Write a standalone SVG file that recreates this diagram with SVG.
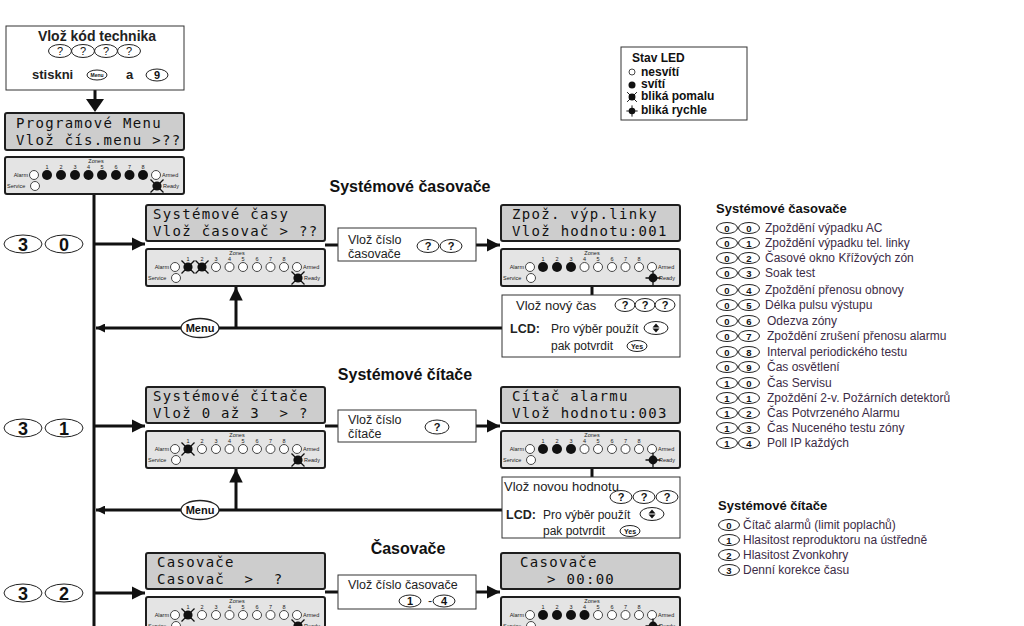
<svg xmlns="http://www.w3.org/2000/svg" width="1024" height="626" viewBox="0 0 1024 626">
<style>
.lcd{fill:#cdcdcd;stroke:#1e1e1e;stroke-width:2}
.pnl{fill:#e4e4e4;stroke:#1e1e1e;stroke-width:2}
.lt{font-family:"DejaVu Sans Mono",monospace;font-size:14px;letter-spacing:1.3px;fill:#111;white-space:pre}
.box{fill:#fff;stroke:#333;stroke-width:1}
.bt{font-family:"Liberation Sans",Arial,sans-serif;font-size:12.5px;fill:#222}
.bt13{font-family:"Liberation Sans",Arial,sans-serif;font-size:12px;fill:#222}
.b{font-weight:bold}
.key{fill:#fff;stroke:#222;stroke-width:1}
.kt{font-family:"Liberation Sans",Arial,sans-serif;font-weight:bold;text-anchor:middle;fill:#111}
.ln{stroke:#111;stroke-width:3;fill:none}
.ah{fill:#111}
.tiny{font-family:"Liberation Sans",Arial,sans-serif;font-size:5.5px;fill:#222}
.ttl{font-family:"Liberation Sans",Arial,sans-serif;font-size:16px;font-weight:bold;fill:#111;text-anchor:middle}
.lst{font-family:"Liberation Sans",Arial,sans-serif;font-size:12px;fill:#3c2b46}
.lh{font-family:"Liberation Sans",Arial,sans-serif;font-size:13px;font-weight:bold;fill:#111}
.leg{font-family:"Liberation Sans",Arial,sans-serif;font-size:12px;font-weight:bold;fill:#111}
</style>
<defs>
<g id="lOff"><circle r="4.5" fill="#fff" stroke="#333" stroke-width="0.9"/></g>
<g id="lOn"><circle r="5" fill="#111"/></g>
<g id="lSlow"><circle r="4.6" fill="#111"/><path d="M-6.5,-6.5L6.5,6.5M-6.5,6.5L6.5,-6.5" stroke="#111" stroke-width="1.3"/></g>
<g id="lFast"><circle r="4.4" fill="#111"/><path d="M-7.5,0H7.5M0,-7.5V7.5" stroke="#111" stroke-width="1.3"/></g>
<g id="panel">
<rect class="pnl" x="0" y="0" width="179" height="37" rx="2"/>
<text class="tiny" x="91" y="6" text-anchor="middle">Zones</text>
<g class="tiny" text-anchor="middle">
<text x="42" y="11.5">1</text><text x="56" y="11.5">2</text><text x="70" y="11.5">3</text><text x="83.5" y="11.5">4</text><text x="97" y="11.5">5</text><text x="111" y="11.5">6</text><text x="124.5" y="11.5">7</text><text x="138" y="11.5">8</text>
</g>
<text class="tiny" x="23" y="20" text-anchor="end">Alarm</text>
<use href="#lOff" x="29" y="18"/>
<use href="#lOff" x="151" y="18"/>
<text class="tiny" x="157" y="20">Armed</text>
<text class="tiny" x="2" y="31">Service</text>
<use href="#lOff" x="30" y="29"/>
<text class="tiny" x="158" y="31">Ready</text>
</g>
<marker id="arr" viewBox="0 0 10 10" refX="10" refY="5" markerWidth="4.5" markerHeight="4.5" markerUnits="strokeWidth" orient="auto"><path d="M0,0L10,5L0,10z" fill="#111"/></marker>
<marker id="arrs" viewBox="0 0 10 10" refX="10" refY="5" markerWidth="3" markerHeight="3" markerUnits="strokeWidth" orient="auto"><path d="M0,0L10,5L0,10z" fill="#111"/></marker>
</defs>

<g id="connectors">
<path class="ln" d="M95,90V100"/>
<path class="ah" d="M86,99H104L95,112z"/>
<path class="ln" d="M94,194V626"/>
<path class="ln" d="M95,244H145" marker-end="url(#arr)"/>
<path class="ln" d="M95,426H145" marker-end="url(#arr)"/>
<path class="ln" d="M95,593H145" marker-end="url(#arr)"/>
<path class="ln" d="M325,245H338"/>
<path class="ln" d="M476,245H500" marker-end="url(#arr)"/>
<path class="ln" d="M325,426H338"/>
<path class="ln" d="M476,426H500" marker-end="url(#arr)"/>
<path class="ln" d="M325,592H338"/>
<path class="ln" d="M476,592H500" marker-end="url(#arr)"/>
<path class="ln" d="M592,286V295"/>
<path class="ln" d="M592,468V477"/>
<path class="ln" d="M502,328H219M181,328H96" marker-end="url(#arrs)"/>
<path class="ln" d="M236,328V287" marker-end="url(#arr)"/>
<path class="ln" d="M502,510H219M181,510H96" marker-end="url(#arrs)"/>
<path class="ln" d="M236,510V469" marker-end="url(#arr)"/>
</g>

<g id="n-start">
<rect class="box" x="6" y="26" width="178" height="64"/>
<text class="bt b" x="97" y="41" text-anchor="middle" style="font-size:14px">Vlož kód technika</text>
<g class="key"><ellipse cx="60" cy="51" rx="11.5" ry="6.5"/><ellipse cx="83" cy="51" rx="11.5" ry="6.5"/><ellipse cx="106" cy="51" rx="11.5" ry="6.5"/><ellipse cx="129" cy="51" rx="11.5" ry="6.5"/></g>
<g class="kt" style="font-size:11px;font-weight:normal"><text x="60" y="55">?</text><text x="83" y="55">?</text><text x="106" y="55">?</text><text x="129" y="55">?</text></g>
<text class="bt b" x="32" y="79" style="font-size:13px">stiskni</text>
<ellipse class="key" cx="97" cy="75" rx="10" ry="5"/>
<text class="kt" x="97" y="77" style="font-size:5px">Menu</text>
<text class="bt b" x="126" y="79" style="font-size:13px">a</text>
<ellipse class="key" cx="157" cy="75" rx="11" ry="6"/>
<text class="kt" x="157" y="79" style="font-size:11px">9</text>
</g>

<g id="n-lcd-main">
<rect class="lcd" x="5" y="113" width="179" height="37" rx="2"/>
<text class="lt" x="16" y="128">Programové Menu</text>
<text class="lt" x="16" y="145">Vlož čís.menu &gt;??</text>
</g>
<g id="n-panel-main" transform="translate(5,157)">
<use href="#panel"/>
<use href="#lOn" x="42" y="18"/><use href="#lOn" x="56" y="18"/><use href="#lOn" x="70" y="18"/><use href="#lOn" x="83.5" y="18"/><use href="#lOn" x="97" y="18"/><use href="#lOn" x="111" y="18"/><use href="#lOn" x="124.5" y="18"/><use href="#lOn" x="138" y="18"/>
<use href="#lSlow" x="152" y="29"/>
</g>

<g id="n-keys30">
<ellipse class="key" cx="23" cy="244" rx="19" ry="9"/><ellipse class="key" cx="64" cy="244" rx="19" ry="9"/>
<text class="kt" x="23" y="250.5" style="font-size:18px">3</text><text class="kt" x="64" y="250.5" style="font-size:18px">0</text>
</g>
<g id="n-keys31">
<ellipse class="key" cx="23" cy="428" rx="19" ry="9"/><ellipse class="key" cx="64" cy="428" rx="19" ry="9"/>
<text class="kt" x="23" y="434.5" style="font-size:18px">3</text><text class="kt" x="64" y="434.5" style="font-size:18px">1</text>
</g>
<g id="n-keys32">
<ellipse class="key" cx="23" cy="593" rx="19" ry="9"/><ellipse class="key" cx="64" cy="593" rx="19" ry="9"/>
<text class="kt" x="23" y="599.5" style="font-size:18px">3</text><text class="kt" x="64" y="599.5" style="font-size:18px">2</text>
</g>

<g id="n-legend">
<rect x="621" y="47" width="126" height="73" fill="#fff" stroke="#333" stroke-width="1"/>
<text class="leg" x="632" y="62">Stav LED</text>
<circle cx="632" cy="72" r="3" fill="#fff" stroke="#333" stroke-width="0.9"/>
<text class="leg" x="641" y="76">nesvítí</text>
<circle cx="632" cy="85" r="3.5" fill="#111"/>
<text class="leg" x="641" y="88">svítí</text>
<g transform="translate(632,97) scale(0.75)"><use href="#lSlow"/></g>
<text class="leg" x="641" y="100">bliká pomalu</text>
<g transform="translate(632,111) scale(0.75)"><use href="#lFast"/></g>
<text class="leg" x="641" y="114">bliká rychle</text>
</g>

<text class="ttl" x="410" y="192">Systémové časovače</text>
<text class="ttl" x="405" y="380">Systémové čítače</text>
<text class="ttl" x="408" y="554">Časovače</text>

<g id="n-lcd-30">
<rect class="lcd" x="146" y="205" width="179" height="36" rx="2"/>
<text class="lt" x="153" y="219">Systémové časy</text>
<text class="lt" x="153" y="236">Vlož časovač &gt; ??</text>
</g>
<g id="n-panel-30" transform="translate(146,249)">
<use href="#panel"/>
<use href="#lSlow" x="42" y="18"/><use href="#lSlow" x="56" y="18"/><use href="#lOff" x="70" y="18"/><use href="#lOff" x="83.5" y="18"/><use href="#lOff" x="97" y="18"/><use href="#lOff" x="111" y="18"/><use href="#lOff" x="124.5" y="18"/><use href="#lOff" x="138" y="18"/>
<use href="#lSlow" x="152" y="29"/>
</g>
<g id="n-box-30">
<rect class="box" x="338" y="228" width="138" height="33"/>
<text class="bt" x="348" y="244">Vlož číslo</text>
<text class="bt" x="348" y="258">časovače</text>
<ellipse class="key" cx="428" cy="246" rx="11" ry="6.5"/><ellipse class="key" cx="451" cy="246" rx="11" ry="6.5"/>
<text class="kt" x="428" y="250" style="font-size:11px">?</text><text class="kt" x="451" y="250" style="font-size:11px">?</text>
</g>
<g id="n-lcd-30v">
<rect class="lcd" x="501" y="205" width="179" height="36" rx="2"/>
<text class="lt" x="512" y="219">Zpož. výp.linky</text>
<text class="lt" x="512" y="236">Vlož hodnotu:001</text>
</g>
<g id="n-panel-30v" transform="translate(501,249)">
<use href="#panel"/>
<use href="#lOn" x="42" y="18"/><use href="#lOn" x="56" y="18"/><use href="#lOn" x="70" y="18"/><use href="#lOff" x="83.5" y="18"/><use href="#lOff" x="97" y="18"/><use href="#lOff" x="111" y="18"/><use href="#lOff" x="124.5" y="18"/><use href="#lOff" x="138" y="18"/>
<use href="#lFast" x="152" y="29"/>
</g>
<g id="n-box-30v">
<rect class="box" x="502" y="295" width="178" height="62"/>
<text class="bt13" x="516" y="310" style="font-size:13px">Vlož nový čas</text>
<ellipse class="key" cx="625" cy="305" rx="10" ry="6.5"/><ellipse class="key" cx="645" cy="305" rx="10" ry="6.5"/><ellipse class="key" cx="665" cy="305" rx="10" ry="6.5"/>
<text class="kt" x="625" y="309" style="font-size:11px">?</text><text class="kt" x="645" y="309" style="font-size:11px">?</text><text class="kt" x="665" y="309" style="font-size:11px">?</text>
<text class="bt13 b" x="510" y="333" style="font-size:12.5px">LCD:</text>
<text class="bt13" x="551" y="333">Pro výběr použít</text>
<ellipse class="key" cx="656" cy="328" rx="12" ry="6.5"/>
<path d="M656,323.5L659.5,327.5H652.5zM656,332.5L659.5,328.5H652.5z" fill="#111"/>
<text class="bt13" x="551" y="350">pak potvrdit</text>
<ellipse class="key" cx="637" cy="346" rx="10" ry="5.5"/>
<text class="kt" x="637" y="348.5" style="font-size:7px">Yes</text>
</g>
<g id="n-menu-30">
<ellipse class="key" cx="200" cy="328" rx="19" ry="9.5" style="stroke-width:1.3"/>
<text class="kt" x="200" y="332" style="font-size:11px">Menu</text>
</g>

<g id="n-lcd-31">
<rect class="lcd" x="146" y="387" width="179" height="36" rx="2"/>
<text class="lt" x="153" y="401">Systémové čítače</text>
<text class="lt" x="153" y="418">Vlož 0 až 3  &gt; ?</text>
</g>
<g id="n-panel-31" transform="translate(146,431)">
<use href="#panel"/>
<use href="#lSlow" x="42" y="18"/><use href="#lOff" x="56" y="18"/><use href="#lOff" x="70" y="18"/><use href="#lOff" x="83.5" y="18"/><use href="#lOff" x="97" y="18"/><use href="#lOff" x="111" y="18"/><use href="#lOff" x="124.5" y="18"/><use href="#lOff" x="138" y="18"/>
<use href="#lSlow" x="152" y="29"/>
</g>
<g id="n-box-31">
<rect class="box" x="338" y="410" width="138" height="32"/>
<text class="bt" x="348" y="424">Vlož číslo</text>
<text class="bt" x="348" y="438">čítače</text>
<ellipse class="key" cx="437" cy="427" rx="12" ry="7"/>
<text class="kt" x="437" y="431" style="font-size:11px">?</text>
</g>
<g id="n-lcd-31v">
<rect class="lcd" x="501" y="387" width="179" height="36" rx="2"/>
<text class="lt" x="512" y="401">Cítač alarmu</text>
<text class="lt" x="512" y="418">Vlož hodnotu:003</text>
</g>
<g id="n-panel-31v" transform="translate(501,431)">
<use href="#panel"/>
<use href="#lOn" x="42" y="18"/><use href="#lOn" x="56" y="18"/><use href="#lOn" x="70" y="18"/><use href="#lOff" x="83.5" y="18"/><use href="#lOff" x="97" y="18"/><use href="#lOff" x="111" y="18"/><use href="#lOff" x="124.5" y="18"/><use href="#lOff" x="138" y="18"/>
<use href="#lFast" x="152" y="29"/>
</g>
<g id="n-box-31v">
<rect class="box" x="502" y="477" width="178" height="61"/>
<text class="bt13" x="504" y="491" style="font-size:13px">Vlož novou hodnotu</text>
<ellipse class="key" cx="621" cy="497" rx="11" ry="6.5"/><ellipse class="key" cx="644" cy="497" rx="11" ry="6.5"/><ellipse class="key" cx="667" cy="497" rx="11" ry="6.5"/>
<text class="kt" x="621" y="501" style="font-size:11px">?</text><text class="kt" x="644" y="501" style="font-size:11px">?</text><text class="kt" x="667" y="501" style="font-size:11px">?</text>
<text class="bt13 b" x="506" y="519" style="font-size:12.5px">LCD:</text>
<text class="bt13" x="543" y="519">Pro výběr použít</text>
<ellipse class="key" cx="652" cy="514" rx="12" ry="6.5"/>
<path d="M652,509.5L655.5,513.5H648.5zM652,518.5L655.5,514.5H648.5z" fill="#111"/>
<text class="bt13" x="543" y="535">pak potvrdit</text>
<ellipse class="key" cx="630" cy="531" rx="10" ry="5.5"/>
<text class="kt" x="630" y="533.5" style="font-size:7px">Yes</text>
</g>
<g id="n-menu-31">
<ellipse class="key" cx="200" cy="510" rx="19" ry="9.5" style="stroke-width:1.3"/>
<text class="kt" x="200" y="514" style="font-size:11px">Menu</text>
</g>

<g id="n-lcd-32">
<rect class="lcd" x="146" y="553" width="179" height="36" rx="2"/>
<text class="lt" x="157" y="567">Casovače</text>
<text class="lt" x="157" y="584">Casovač  &gt;  ?</text>
</g>
<g id="n-panel-32" transform="translate(146,597)">
<use href="#panel"/>
<use href="#lSlow" x="42" y="18"/><use href="#lOff" x="56" y="18"/><use href="#lOff" x="70" y="18"/><use href="#lOff" x="83.5" y="18"/><use href="#lOff" x="97" y="18"/><use href="#lOff" x="111" y="18"/><use href="#lOff" x="124.5" y="18"/><use href="#lOff" x="138" y="18"/>
<use href="#lSlow" x="152" y="29"/>
</g>
<g id="n-box-32">
<rect class="box" x="338" y="575" width="138" height="34"/>
<text class="bt" x="348" y="589">Vlož číslo časovače</text>
<ellipse class="key" cx="410" cy="601" rx="11" ry="6"/>
<text class="kt" x="410" y="605" style="font-size:11px">1</text>
<text class="bt" x="428" y="605">-</text>
<ellipse class="key" cx="444" cy="601" rx="11" ry="6"/>
<text class="kt" x="444" y="605" style="font-size:11px">4</text>
</g>
<g id="n-lcd-32v">
<rect class="lcd" x="501" y="553" width="179" height="36" rx="2"/>
<text class="lt" x="520" y="567">Casovače</text>
<text class="lt" x="547" y="584">&gt; 00:00</text>
</g>
<g id="n-panel-32v" transform="translate(501,597)">
<use href="#panel"/>
<use href="#lOn" x="42" y="18"/><use href="#lOn" x="56" y="18"/><use href="#lOn" x="70" y="18"/><use href="#lOn" x="83.5" y="18"/><use href="#lOff" x="97" y="18"/><use href="#lOff" x="111" y="18"/><use href="#lOff" x="124.5" y="18"/><use href="#lOff" x="138" y="18"/>
<use href="#lFast" x="152" y="29"/>
</g>

<g id="n-list-casovace">
<text class="lh" x="716" y="213">Systémové časovače</text>
<g class="key">
<ellipse cx="727" cy="228" rx="10.5" ry="5.5"/><ellipse cx="749" cy="228" rx="10.5" ry="5.5"/>
<ellipse cx="727" cy="243" rx="10.5" ry="5.5"/><ellipse cx="749" cy="243" rx="10.5" ry="5.5"/>
<ellipse cx="727" cy="258" rx="10.5" ry="5.5"/><ellipse cx="749" cy="258" rx="10.5" ry="5.5"/>
<ellipse cx="727" cy="273" rx="10.5" ry="5.5"/><ellipse cx="749" cy="273" rx="10.5" ry="5.5"/>
<ellipse cx="727" cy="290" rx="10.5" ry="5.5"/><ellipse cx="749" cy="290" rx="10.5" ry="5.5"/>
<ellipse cx="727" cy="305" rx="10.5" ry="5.5"/><ellipse cx="749" cy="305" rx="10.5" ry="5.5"/>
<ellipse cx="727" cy="321" rx="10.5" ry="5.5"/><ellipse cx="749" cy="321" rx="10.5" ry="5.5"/>
<ellipse cx="727" cy="336" rx="10.5" ry="5.5"/><ellipse cx="749" cy="336" rx="10.5" ry="5.5"/>
<ellipse cx="727" cy="352" rx="10.5" ry="5.5"/><ellipse cx="749" cy="352" rx="10.5" ry="5.5"/>
<ellipse cx="727" cy="367" rx="10.5" ry="5.5"/><ellipse cx="749" cy="367" rx="10.5" ry="5.5"/>
<ellipse cx="727" cy="383" rx="10.5" ry="5.5"/><ellipse cx="749" cy="383" rx="10.5" ry="5.5"/>
<ellipse cx="727" cy="398" rx="10.5" ry="5.5"/><ellipse cx="749" cy="398" rx="10.5" ry="5.5"/>
<ellipse cx="727" cy="413" rx="10.5" ry="5.5"/><ellipse cx="749" cy="413" rx="10.5" ry="5.5"/>
<ellipse cx="727" cy="428" rx="10.5" ry="5.5"/><ellipse cx="749" cy="428" rx="10.5" ry="5.5"/>
<ellipse cx="727" cy="443" rx="10.5" ry="5.5"/><ellipse cx="749" cy="443" rx="10.5" ry="5.5"/>
</g>
<g class="kt" style="font-size:9.5px">
<text x="727" y="231.5">0</text><text x="749" y="231.5">0</text>
<text x="727" y="246.5">0</text><text x="749" y="246.5">1</text>
<text x="727" y="261.5">0</text><text x="749" y="261.5">2</text>
<text x="727" y="276.5">0</text><text x="749" y="276.5">3</text>
<text x="727" y="293.5">0</text><text x="749" y="293.5">4</text>
<text x="727" y="308.5">0</text><text x="749" y="308.5">5</text>
<text x="727" y="324.5">0</text><text x="749" y="324.5">6</text>
<text x="727" y="339.5">0</text><text x="749" y="339.5">7</text>
<text x="727" y="355.5">0</text><text x="749" y="355.5">8</text>
<text x="727" y="370.5">0</text><text x="749" y="370.5">9</text>
<text x="727" y="386.5">1</text><text x="749" y="386.5">0</text>
<text x="727" y="401.5">1</text><text x="749" y="401.5">1</text>
<text x="727" y="416.5">1</text><text x="749" y="416.5">2</text>
<text x="727" y="431.5">1</text><text x="749" y="431.5">3</text>
<text x="727" y="446.5">1</text><text x="749" y="446.5">4</text>
</g>
<g class="lst">
<text x="765" y="232">Zpoždění výpadku AC</text>
<text x="765" y="247">Zpoždění výpadku tel. linky</text>
<text x="765" y="262">Časové okno Křížových zón</text>
<text x="765" y="277">Soak test</text>
<text x="765" y="294">Zpoždění přenosu obnovy</text>
<text x="765" y="309">Délka pulsu výstupu</text>
<text x="767" y="325">Odezva zóny</text>
<text x="767" y="340">Zpoždění zrušení přenosu alarmu</text>
<text x="767" y="356">Interval periodického testu</text>
<text x="767" y="371">Čas osvětlení</text>
<text x="767" y="387">Čas Servisu</text>
<text x="767" y="402">Zpoždění 2-v. Požárních detektorů</text>
<text x="767" y="417">Čas Potvrzeného Alarmu</text>
<text x="767" y="432">Čas Nuceného testu zóny</text>
<text x="767" y="447">Poll IP každých</text>
</g>
</g>

<g id="n-list-citace">
<text class="lh" x="718" y="510">Systémové čítače</text>
<g class="key">
<ellipse cx="729" cy="525" rx="10.5" ry="5.5"/>
<ellipse cx="729" cy="540" rx="10.5" ry="5.5"/>
<ellipse cx="729" cy="555" rx="10.5" ry="5.5"/>
<ellipse cx="729" cy="570" rx="10.5" ry="5.5"/>
</g>
<g class="kt" style="font-size:9.5px">
<text x="729" y="528.5">0</text><text x="729" y="543.5">1</text><text x="729" y="558.5">2</text><text x="729" y="573.5">3</text>
</g>
<g class="lst">
<text x="743" y="529">Čítač alarmů (limit poplachů)</text>
<text x="743" y="544">Hlasitost reproduktoru na ústředně</text>
<text x="743" y="559">Hlasitost Zvonkohry</text>
<text x="743" y="574">Denní korekce času</text>
</g>
</g>
</svg>
